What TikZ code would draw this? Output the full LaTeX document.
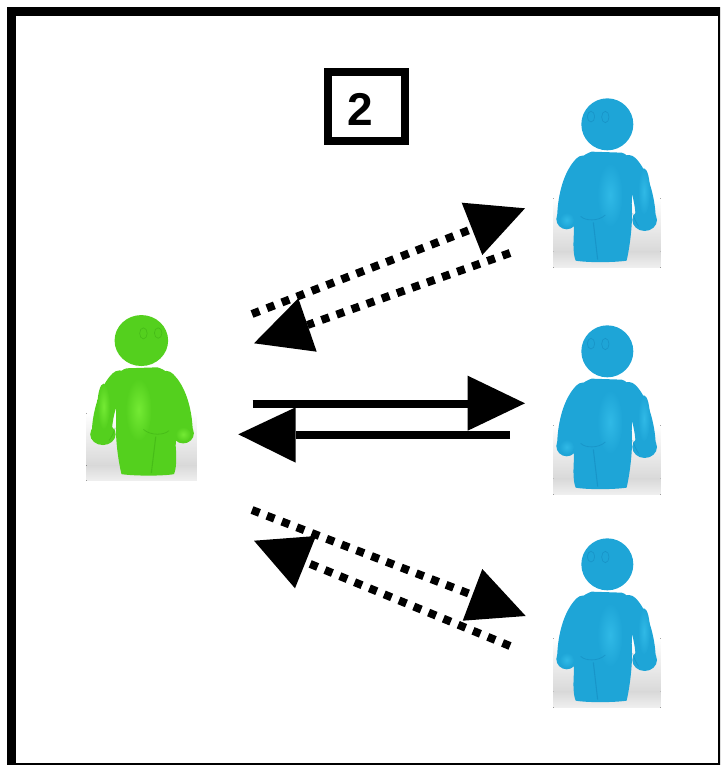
\documentclass[tikz,border=0pt]{standalone}
\usepackage{fontspec}
\setmainfont{Liberation Sans}
\tikzset{
  x=1pt,y=-1pt,
  solidline/.style={line width=8pt,draw=black},
  dotline/.style={line width=8pt,draw=black,dash pattern=on 8pt off 8pt},
  headtri/.style={fill=black,draw=none},
  framebox/.style={line width=9pt,draw=black},
  numbox/.style={line width=8pt,draw=black,fill=white,minimum width=77.5pt,minimum height=69.5pt,inner sep=0pt},
}
\definecolor{blueA}{RGB}{30,165,215}
\definecolor{blueB}{RGB}{48,185,230}
\definecolor{blueC}{RGB}{20,135,188}
\definecolor{greenA}{RGB}{84,208,30}
\definecolor{greenB}{RGB}{116,234,52}
\definecolor{greenC}{RGB}{60,172,20}
% #1 base, #2 highlight, #3 dark
\newcommand{\personshape}[3]{%
  \begin{scope}[x=0.3333pt,y=-0.3333pt]
    % photo background: grey floor shadow
    \fill[top color=white,bottom color=black!15] (70,340) rectangle (392,500);
    \fill[top color=black!15,bottom color=black!6] (70,500) rectangle (392,548);
    % arms
    \draw[#1,line width=19pt,line cap=round,line join=round]
      (160,240) .. controls (130,270) and (112,330) .. (110,395);
    \draw[#1,line width=20pt,line cap=round,line join=round]
      (295,240) .. controls (325,270) and (345,340) .. (347,395);
    % hands
    \fill[#1] (110,402) ellipse[x radius=31,y radius=31];
    \fill[#1] (344,405) ellipse[x radius=37,y radius=33];
    % torso and legs
    \path[fill=#1] (185,200) .. controls (160,208) and (140,225) .. (135,260)
      .. controls (132,320) and (130,400) .. (132,440)
      .. controls (129,480) and (130,510) .. (137,527)
      .. controls (170,533) and (250,533) .. (290,527)
      .. controls (298,490) and (304,450) .. (306,400)
      .. controls (305,360) and (304,320) .. (310,285)
      .. controls (318,250) and (300,208) .. (275,203)
      -- cycle;
    % head
    \fill[#1] (232,118) circle[radius=78];
    % highlights
    \shade[inner color=#2,outer color=#1] (240,330) ellipse[x radius=38,y radius=95];
    \shade[inner color=#2,outer color=#1] (342,320) ellipse[x radius=18,y radius=70];
    \shade[inner color=#2,outer color=#1] (110,405) circle[radius=22];
    % creases
    \draw[#3,line width=.8pt,opacity=.5] (152,394) .. controls (165,408) and (205,410) .. (226,390);
    \draw[#3,line width=1.1pt,opacity=.5] (190,412) -- (203,524);
    \draw[#3,line width=.7pt,opacity=.5] (308,385) .. controls (312,400) and (318,412) .. (326,424);
    % eyes
    \draw[#3,line width=.6pt,opacity=.6] (183,95) ellipse[x radius=11,y radius=16] (226,96) ellipse[x radius=11,y radius=17];
  \end{scope}%
}
\begin{document}
\begin{tikzpicture}
\useasboundingbox (0,0) rectangle (720,765);
\begin{scope}
\clip (0,0) rectangle (720,765);
\draw[framebox] (11.5,11.5) rectangle (722,767);
\end{scope}

\node[numbox] (num) at (366.7,106.3) {};
\node[font=\bfseries\fontsize{46}{46}\selectfont,inner sep=0pt] (numtext) at (360.7,109) {2};

% people
\begin{scope}[shift={(530,85)}]\personshape{blueA}{blueB}{blueC}\end{scope}
\begin{scope}[shift={(530,312)}]\personshape{blueA}{blueB}{blueC}\end{scope}
\begin{scope}[shift={(530,525)}]\personshape{blueA}{blueB}{blueC}\end{scope}
\begin{scope}[shift={(221,302)},xscale=-1.03,yscale=.98]\personshape{greenA}{greenB}{greenC}\end{scope}

% end points
\coordinate (a1) at (252,314); \coordinate (a2) at (472,229);
\coordinate (b1) at (510,253); \coordinate (b2) at (307.5,325);
\coordinate (c1) at (252.7,403.5); \coordinate (c2) at (468,403.5);
\coordinate (d1) at (510,434.5); \coordinate (d2) at (295.7,434.5);
\coordinate (e1) at (252,510); \coordinate (e2) at (472.5,595);
\coordinate (f1) at (510,646); \coordinate (f2) at (305.5,562);

\draw[dotline] (a1) -- (a2);
\draw[dotline] (b1) -- (b2);
\draw[solidline] (c1) -- (c2);
\draw[solidline] (d1) -- (d2);
\draw[dotline] (e1) -- (e2);
\draw[dotline] (f1) -- (f2);

\fill[headtri] (461.7,202.7) -- (525,208.3) -- (482.3,255) -- cycle;
\fill[headtri] (298.3,298.3) -- (254,343.3) -- (316.7,351.7) -- cycle;
\fill[headtri] (467.7,375.7) -- (525,403.3) -- (467.7,430.7) -- cycle;
\fill[headtri] (295.7,407.3) -- (238.3,434.3) -- (295.7,462.7) -- cycle;
\fill[headtri] (482.3,569) -- (525.7,616) -- (462.7,620.7) -- cycle;
\fill[headtri] (254,540.7) -- (316,536) -- (295,588.3) -- cycle;
\end{tikzpicture}
\end{document}
